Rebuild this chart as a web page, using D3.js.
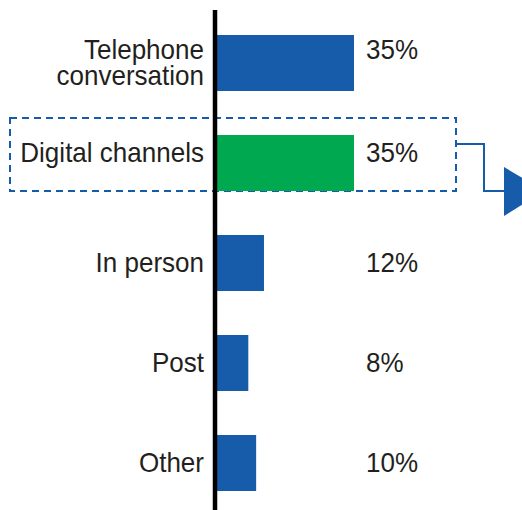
<!DOCTYPE html>
<html>
<head>
<meta charset="utf-8">
<script src="https://cdn.jsdelivr.net/npm/d3@7"></script>
<style>
  body { margin: 0; background: #fff; }
  text { font-family: "Liberation Sans", Arial, sans-serif; fill: #231f20; }
</style>
</head>
<body>
<svg id="chart"></svg>
<script>

// data
var categories = ["Telephone conversation", "Digital channels", "In person", "Post", "Other"];
var labelLines = [["Telephone", "conversation"], ["Digital channels"], ["In person"], ["Post"], ["Other"]];
var shares = [35, 35, 12, 8, 10];
var highlighted = "Digital channels";

var width = 522, height = 510;
var axisX = 215;

var svg = d3.select("#chart")
    .attr("width", width)
    .attr("height", height);

var x = d3.scaleLinear()
    .domain([0, 35])
    .range([217, 354]);

var y = d3.scaleBand()
    .domain(categories)
    .range([13, 513])
    .paddingInner(0.44)
    .paddingOuter(0.22);

var blue = "#165cab", green = "#00a84f";

// dashed box round the highlighted row + connector arrow
var hy = y(highlighted);
var boxTop = hy - 17, boxBottom = hy + y.bandwidth();
svg.append("rect")
    .attr("x", 10)
    .attr("y", boxTop)
    .attr("width", 446)
    .attr("height", boxBottom - boxTop)
    .attr("fill", "none")
    .attr("stroke", blue)
    .attr("stroke-width", 2)
    .attr("stroke-dasharray", "7,5");

svg.append("path")
    .attr("d", "M456," + (boxTop + 26) + "H484V" + boxBottom + "H505")
    .attr("fill", "none")
    .attr("stroke", blue)
    .attr("stroke-width", 2);

svg.append("path")
    .attr("d", "M504," + (boxBottom - 24) + "L544," + boxBottom + "L504," + (boxBottom + 25) + "Z")
    .attr("fill", blue);

// bars
svg.selectAll(".bar")
    .data(categories)
    .enter()
    .append("rect")
    .attr("class", "bar")
    .attr("x", x(0))
    .attr("y", function (d) { return y(d); })
    .attr("width", function (d, i) { return x(shares[i]) - x(0); })
    .attr("height", y.bandwidth())
    .attr("fill", function (d) { return d == highlighted ? green : blue; });

// text is a bit condensed in the original
var fs = 28, squeeze = 0.93, lh = 26;

function firstBaseline(d, i) {
    var c = y(d) + y.bandwidth() / 2;
    if (d == highlighted) c -= 10;
    return c - (labelLines[i].length - 1) * lh / 2 + 9;
}

// category labels
svg.selectAll(".cat")
    .data(categories)
    .enter()
    .append("text")
    .attr("class", "cat")
    .attr("text-anchor", "end")
    .style("font-size", fs + "px")
    .attr("transform", function (d, i) {
        return "translate(204," + firstBaseline(d, i) + ") scale(" + squeeze + ",1)";
    })
    .each(function (d, i) {
        var t = d3.select(this);
        labelLines[i].forEach(function (l, j) {
            t.append("tspan")
                .attr("x", 0)
                .attr("y", j * lh)
                .text(l);
        });
    });

// value labels
svg.selectAll(".val")
    .data(categories)
    .enter()
    .append("text")
    .attr("class", "val")
    .attr("transform", function (d, i) {
        return "translate(366," + firstBaseline(d, i) + ") scale(" + squeeze + ",1)";
    })
    .style("font-size", fs + "px")
    .text(function (d, i) { return shares[i] + "%"; });

// vertical axis line
svg.append("line")
    .attr("x1", axisX).attr("x2", axisX)
    .attr("y1", 10).attr("y2", height)
    .attr("stroke", "#000")
    .attr("stroke-width", 4.5);

</script>
</body>
</html>
